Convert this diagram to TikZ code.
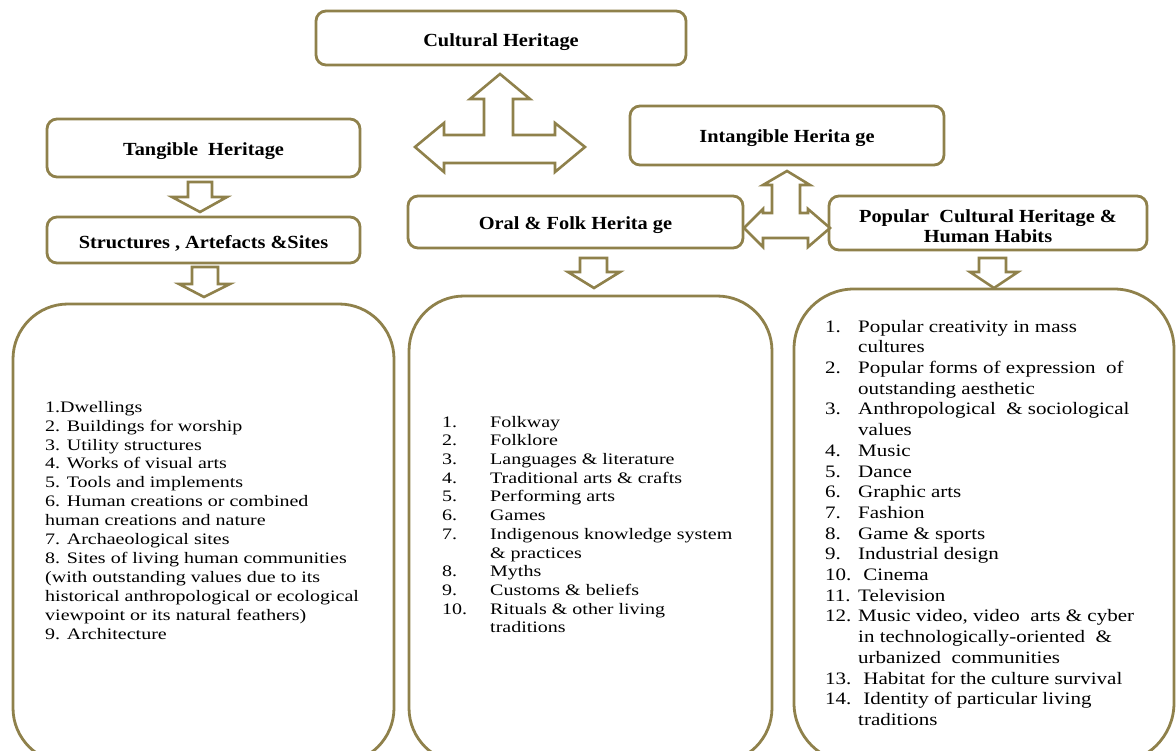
\documentclass[tikz,border=0pt]{standalone}
\usepackage{fontspec}
\setmainfont{Liberation Serif}
\usepackage{graphicx}
\definecolor{olivebrd}{RGB}{143,129,75}
\tikzset{
 hbox/.style={draw=olivebrd, line width=2.8pt, rounded corners=10pt, fill=white, inner sep=0pt, align=center, font=\fontsize{18.5}{20.5}\selectfont\bfseries},
 bigbox/.style={draw=olivebrd, line width=2.8pt, rounded corners=55pt, inner sep=0pt},
 blockarrow/.style={draw=olivebrd, line width=2.6pt, fill=white, line join=miter},
 listtext/.style={anchor=north west, inner sep=0pt},
}
\newcommand{\hd}[1]{\raisebox{-3pt}[\height][\depth]{\scalebox{1.1}[1]{#1}}}
\newcommand{\numitem}[3]{\makebox[#1][l]{#2}#3}
\begin{document}
\begin{tikzpicture}[x=1pt,y=-1pt]
\useasboundingbox (0,0) rectangle (1176,751);
\clip (0,0) rectangle (1176,751);
\fill[white] (0,0) rectangle (1176,751);

% header boxes
\node[hbox, minimum width=370pt, minimum height=54pt] (cultural) at (501,38) {\raisebox{-1pt}[\height][\depth]{\hd{Cultural Heritage}}};
\node[hbox, minimum width=313pt, minimum height=58pt] (tangible) at (203.5,148) {\hd{Tangible\ \ Heritage}};
\node[hbox, minimum width=313pt, minimum height=46pt] (structures) at (203.5,240) {\hd{Structures , Artefacts \&Sites}};
\node[hbox, minimum width=314pt, minimum height=59pt] (intangible) at (787,135.5) {\hd{Intangible Herita ge}};
\node[hbox, minimum width=335pt, minimum height=52pt] (oral) at (575.5,222) {\hd{Oral \& Folk Herita ge}};
\node[hbox, minimum width=318pt, minimum height=54pt] (popular) at (988,223) {\hd{Popular\ \ Cultural Heritage \&}\\\hd{Human Habits}};

% big boxes
\node[bigbox, minimum width=381pt, minimum height=459pt] (lbox) at (203.5,533.5) {};
\node[bigbox, minimum width=363pt, minimum height=467pt] (mbox) at (590.5,529.5) {};
\node[bigbox, rounded corners=60pt, minimum width=380pt, minimum height=474pt] (rbox) at (984,526) {};

% block arrows
\draw[blockarrow] (188,182)--(212,182)--(212,197)--(227,197)--(200,212)--(172,197)--(188,197)--cycle;
\draw[blockarrow] (192,267)--(218,267)--(218,284)--(230,284)--(204,297)--(179,284)--(192,284)--cycle;
\draw[blockarrow] (580,258)--(607,258)--(607,272)--(620,272)--(594,288)--(568,272)--(580,272)--cycle;
\draw[blockarrow] (979,258)--(1006,258)--(1006,272)--(1018,272)--(994,288)--(970,272)--(979,272)--cycle;

% tri-arrow under Cultural Heritage
\draw[blockarrow] (500,74)--(530,99)--(513,99)--(513,135)--(555,135)--(555,123)--(585,147)--(555,172)--(555,163)--(444,163)--(444,172)--(415,147)--(444,123)--(444,135)--(484,135)--(484,99)--(470,99)--cycle;

% tri-arrow between Intangible, Oral and Popular
\draw[blockarrow] (787,171)--(810,185)--(800,185)--(800,213)--(808,213)--(808,209)--(830,228)--(808,247)--(808,238)--(763,238)--(763,247)--(744,228)--(763,209)--(763,213)--(772,213)--(772,185)--(763,185)--cycle;

% left list
\node[listtext] (ltext) at (45,398.8) {\fontsize{16}{18.9}\selectfont\scalebox{1.25}[1]{\begin{tabular}{@{}l@{}}
1.Dwellings\\
2. Buildings for worship\\
3. Utility structures\\
4. Works of visual arts\\
5. Tools and implements\\
6. Human creations or combined\\
human creations and nature\\
7. Archaeological sites\\
8. Sites of living human communities\\
(with outstanding values due to its\\
historical anthropological or ecological\\
viewpoint or its natural feathers)\\
9. Architecture
\end{tabular}}};

% middle list
\node[listtext] (mtext) at (442,413.9) {\fontsize{16}{18.7}\selectfont\scalebox{1.25}[1]{\begin{tabular}{@{}l@{}}
\numitem{38.4pt}{1.}{Folkway}\\
\numitem{38.4pt}{2.}{Folklore}\\
\numitem{38.4pt}{3.}{Languages \& literature}\\
\numitem{38.4pt}{4.}{Traditional arts \& crafts}\\
\numitem{38.4pt}{5.}{Performing arts}\\
\numitem{38.4pt}{6.}{Games}\\
\numitem{38.4pt}{7.}{Indigenous knowledge system}\\
\numitem{38.4pt}{}{\& practices}\\
\numitem{38.4pt}{8.}{Myths}\\
\numitem{38.4pt}{9.}{Customs \& beliefs}\\
\numitem{38.4pt}{10.}{Rituals \& other living}\\
\numitem{38.4pt}{}{traditions}
\end{tabular}}};

% right list
\node[listtext] (rtext) at (825,317.5) {\fontsize{17.5}{20.7}\selectfont\scalebox{1.2}[1]{\begin{tabular}{@{}l@{}}
\numitem{27.5pt}{1.}{Popular creativity in mass}\\
\numitem{27.5pt}{}{cultures}\\
\numitem{27.5pt}{2.}{Popular forms of expression\ \ of}\\
\numitem{27.5pt}{}{outstanding aesthetic}\\
\numitem{27.5pt}{3.}{Anthropological\ \ \& sociological}\\
\numitem{27.5pt}{}{values}\\
\numitem{27.5pt}{4.}{Music}\\
\numitem{27.5pt}{5.}{Dance}\\
\numitem{27.5pt}{6.}{Graphic arts}\\
\numitem{27.5pt}{7.}{Fashion}\\
\numitem{27.5pt}{8.}{Game \& sports}\\
\numitem{27.5pt}{9.}{Industrial design}\\
\numitem{27.5pt}{10.}{\ Cinema}\\
\numitem{27.5pt}{11.}{Television}\\
\numitem{27.5pt}{12.}{Music video, video\ \ arts \& cyber}\\
\numitem{27.5pt}{}{in technologically-oriented\ \ \&}\\
\numitem{27.5pt}{}{urbanized\ \ communities}\\
\numitem{27.5pt}{13.}{\ Habitat for the culture survival}\\
\numitem{27.5pt}{14.}{\ Identity of particular living}\\
\numitem{27.5pt}{}{traditions}
\end{tabular}}};
\end{tikzpicture}
\end{document}
